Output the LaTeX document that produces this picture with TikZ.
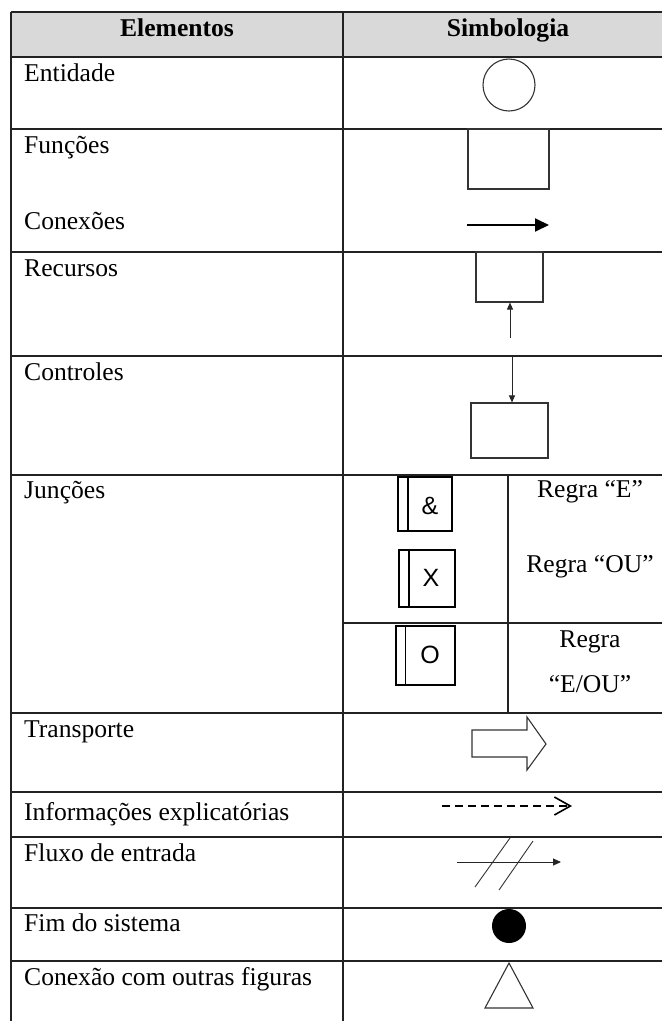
\documentclass[tikz,border=0pt]{standalone}
\usepackage{fontspec}
\setmainfont{Liberation Serif}
\newfontfamily\arialf{Liberation Sans}
\usetikzlibrary{arrows.meta}
\definecolor{hdrgray}{HTML}{D9D9D9}
\definecolor{rule}{HTML}{222222}
\begin{document}
\begin{tikzpicture}[x=1pt,y=-1pt,
  gridline/.style={line width=1.2pt, draw=rule},
  lbl/.style={anchor=base west, inner sep=0pt, font=\fontsize{25.6}{30}\selectfont},
  ctr/.style={anchor=base, inner sep=0pt, font=\fontsize{25.6}{30}\selectfont},
  hdr/.style={anchor=base, inner sep=0pt, font=\fontsize{25.6}{30}\selectfont\bfseries},
  symbox/.style={draw=black!80, line width=1.1pt, inner sep=0pt, fill=white},
  jbox/.style={draw=black, line width=2pt, inner sep=0pt, minimum width=55pt, minimum height=55pt},
  jlet/.style={inner sep=0pt, font=\arialf\fontsize{25}{28}\selectfont},
  thinarrow/.style={line width=1pt, draw=black!85, -{Triangle[length=7pt,width=6pt]}},
]
\useasboundingbox (0,0) rectangle (662,1021);
% header fill
\fill[hdrgray] (11,12) rectangle (662,57);
% horizontal rules
\foreach \yy in {12,57,129,252,356,475,713,792,837,908,961}
  \draw[gridline] (11,\yy) -- (662,\yy);
% vertical rules
\draw[gridline] (11,12) -- (11,1021);
\draw[gridline] (343,12) -- (343,1021);
\draw[gridline] (508,475) -- (508,713);
\draw[gridline] (343,623) -- (662,623);

% header
\node[hdr] (hE) at (177,36) {Elementos};
\node[hdr] (hS) at (508,36) {Simbologia};

% left column labels
\node[lbl] (l1) at (24,81) {Entidade};
\node[lbl] (l2) at (24,153) {Funções};
\node[lbl] (l3) at (24,229) {Conexões};
\node[lbl] (l4) at (24,276) {Recursos};
\node[lbl] (l5) at (24,380) {Controles};
\node[lbl] (l6) at (24,498) {Junções};
\node[lbl] (l7) at (24,737) {Transporte};
\node[lbl] (l8) at (24,820) {Informações explicatórias};
\node[lbl] (l9) at (24,861) {Fluxo de entrada};
\node[lbl] (l10) at (24,931) {Fim do sistema};
\node[lbl] (l11) at (24,985) {Conexão com outras figuras};

% Entidade
\node[circle, draw=black!80, line width=1.1pt, minimum size=52pt, inner sep=0pt] (ent) at (509,85) {};

% Funcoes
\node[symbox, minimum width=81pt, minimum height=60pt] (fun) at (508.5,159) {};
% Conexoes
\coordinate (cA) at (467,225);
\coordinate (cB) at (549,225);
\draw[line width=1.9pt, -{Triangle[length=14pt,width=13pt]}] (cA) -- (cB);

% Recursos
\node[symbox, minimum width=67pt, minimum height=50pt] (rec) at (509.5,277) {};
\coordinate (rA) at (510,338);
\draw[thinarrow] (rA) -- (rec.south -| rA);

% Controles
\node[symbox, minimum width=77pt, minimum height=55pt] (con) at (509.5,430.5) {};
\coordinate (kA) at (512,356);
\draw[thinarrow] (kA) -- (con.north -| kA);

% Juncoes
\node[jbox, minimum width=54pt, minimum height=54pt] (jE) at (425,504) {};
\draw[line width=1.1pt] ([xshift=11pt]jE.north west) -- ([xshift=11pt]jE.south west);
\node[jlet] (jEt) at (430,506) {\&};
\node[jbox, minimum width=56pt, minimum height=57pt] (jX) at (427,578.5) {};
\draw[line width=1.1pt] ([xshift=11pt]jX.north west) -- ([xshift=11pt]jX.south west);
\node[jlet] (jXt) at (431,578) {X};
\node[jbox, minimum width=59pt, minimum height=59pt, line width=2.4pt] (jO) at (425.5,655.5) {};
\draw[line width=1.1pt] ([xshift=11pt]jO.north west) -- ([xshift=11pt]jO.south west);
\node[jlet] (jOt) at (430,655) {O};

\node[ctr] (rE) at (590,497) {Regra “E”};
\node[ctr] (rOU) at (590,572) {Regra “OU”};
\node[ctr] (rEOU1) at (590,647) {Regra};
\node[ctr] (rEOU2) at (590,692) {“E/OU”};

% Transporte
\draw[line width=1.1pt, draw=black!80]
  (472,730) -- (527,730) -- (527,717) -- (546,744) -- (527,770) -- (527,757) -- (472,757) -- cycle;

% Informacoes explicatorias
\coordinate (dA) at (442,806);
\coordinate (dB) at (572,806);
\draw[line width=1.6pt, dash pattern=on 8pt off 5pt, -{Straight Barb[length=16pt,width=18pt]}] (dA) -- (dB);

% Fluxo de entrada
\coordinate (fA) at (457,862);
\coordinate (fB) at (561,862);
\draw[thinarrow, -{Triangle[length=8pt,width=7pt]}] (fA) -- (fB);
\draw[line width=0.9pt, draw=black!80] (475,887) -- (510,838);
\draw[line width=0.9pt, draw=black!80] (499,890) -- (533,841);

% Fim do sistema
\node[circle, fill=black, minimum size=34pt, inner sep=0pt] (fim) at (509,926) {};

% Conexao com outras figuras
\draw[line width=1.1pt, draw=black!80] (509,963) -- (533,1008) -- (485,1008) -- cycle;
\end{tikzpicture}
\end{document}
